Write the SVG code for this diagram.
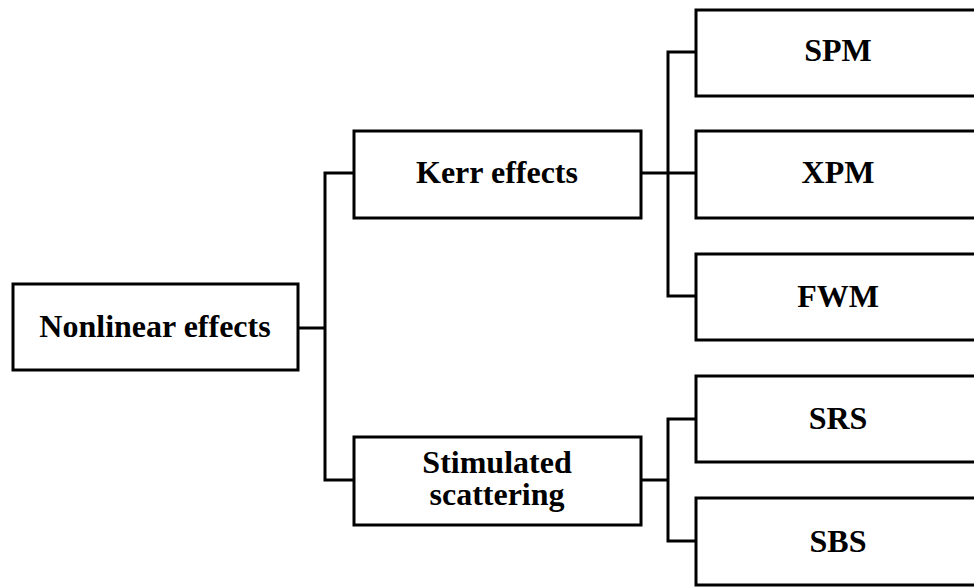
<svg xmlns="http://www.w3.org/2000/svg" width="974" height="588" viewBox="0 0 974 588">
<style>
.box{fill:#fff;stroke:#000;stroke-width:3}
.lbl{font-family:"Liberation Serif","Times New Roman",serif;font-weight:bold;font-size:32px;text-anchor:middle;fill:#000}
.con{fill:none;stroke:#000;stroke-width:3;stroke-linejoin:miter}
</style>
<rect width="974" height="588" fill="#fff"/>
<g id="connectors">
<path class="con" d="M298,328 H325 M354,173 H325 V480 H354"/>
<path class="con" d="M641,173 H696 M696,52 H668 V296 H696"/>
<path class="con" d="M641,480 H668 M696,419 H668 V541 H696"/>
</g>
<g id="nonlinear"><rect class="box" x="13" y="284" width="285" height="86"/><text class="lbl" x="155" y="337">Nonlinear effects</text></g>
<g id="kerr"><rect class="box" x="354" y="131" width="287" height="87"/><text class="lbl" x="497" y="183">Kerr effects</text></g>
<g id="stimulated"><rect class="box" x="354" y="437" width="287" height="88"/><text class="lbl" x="497" y="473"><tspan x="497" y="473">Stimulated</tspan><tspan x="497" y="505">scattering</tspan></text></g>
<g id="spm"><rect class="box" x="696" y="10" width="290" height="86"/><text class="lbl" x="838" y="61">SPM</text></g>
<g id="xpm"><rect class="box" x="696" y="131" width="290" height="87"/><text class="lbl" x="838" y="183">XPM</text></g>
<g id="fwm"><rect class="box" x="696" y="254" width="290" height="86"/><text class="lbl" x="838" y="307">FWM</text></g>
<g id="srs"><rect class="box" x="696" y="376" width="290" height="86"/><text class="lbl" x="838" y="429">SRS</text></g>
<g id="sbs"><rect class="box" x="696" y="498" width="290" height="87"/><text class="lbl" x="838" y="552">SBS</text></g>
</svg>
